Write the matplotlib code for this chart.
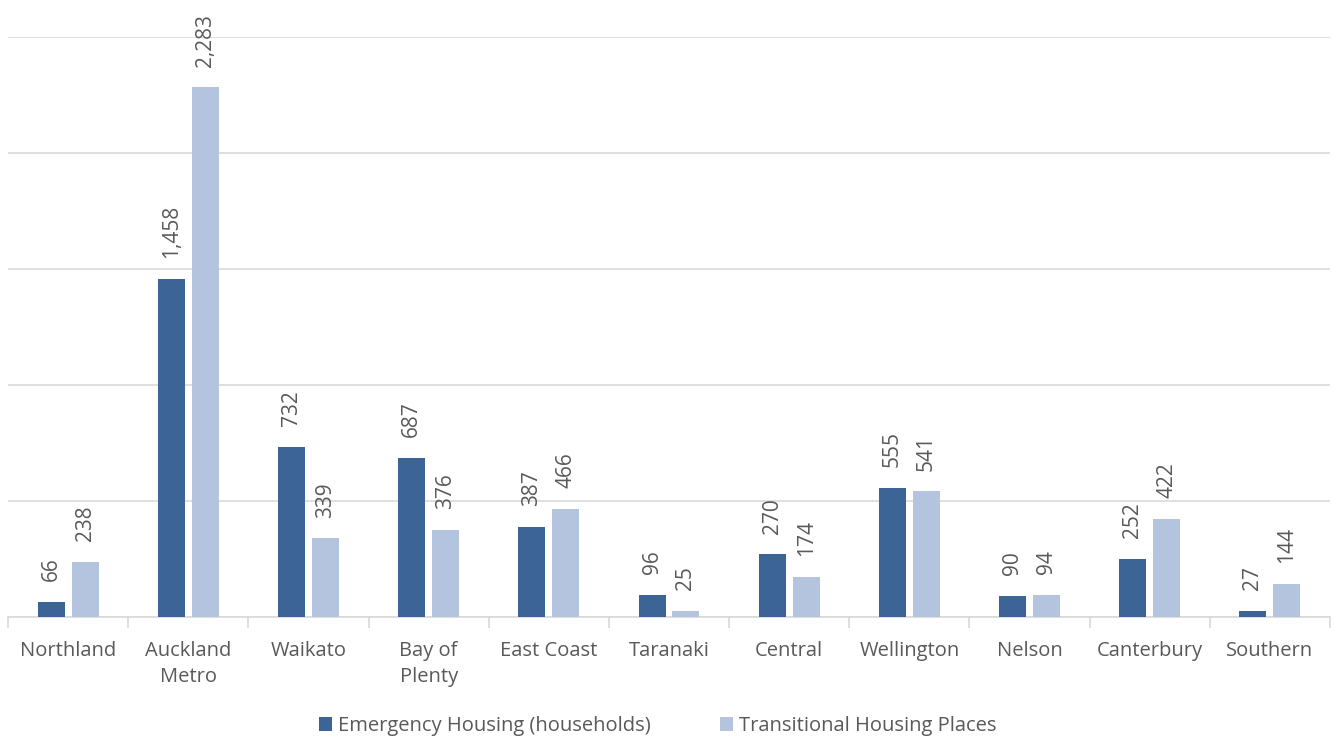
import numpy as np
import matplotlib.pyplot as plt
from matplotlib.ticker import FixedLocator, MultipleLocator

plt.rcParams['font.family'] = ['Open Sans', 'DejaVu Sans']

regions = ['Northland', 'Auckland\nMetro', 'Waikato', 'Bay of\nPlenty', 'East Coast',
           'Taranaki', 'Central', 'Wellington', 'Nelson', 'Canterbury', 'Southern']
emergency = [66, 1458, 732, 687, 387, 96, 270, 555, 90, 252, 27]
transitional = [238, 2283, 339, 376, 466, 25, 174, 541, 94, 422, 144]

dark = '#3c6496'
light = '#b4c4de'
txt = '#595959'

fig = plt.figure(figsize=(13.34, 7.4), dpi=100)
ax = fig.add_axes([8 / 1334, 1 - 617 / 740, 1322 / 1334, (617 - 37) / 740])

x = np.arange(len(regions))
w = 0.225
off = 0.141
b1 = ax.bar(x - off, emergency, w, color=dark, label='Emergency Housing (households)', zorder=3)
b2 = ax.bar(x + off, transitional, w, color=light, label='Transitional Housing Places', zorder=3)

for bars in (b1, b2):
    ax.bar_label(bars, labels=[f'{v:,}' for v in bars.datavalues], rotation=90,
                 padding=15, fontsize=15, color=txt)

ax.set_xlim(-0.5, len(regions) - 0.5)
ax.set_ylim(0, 2500)
ax.yaxis.set_major_locator(MultipleLocator(500))
ax.grid(axis='y', color='#d9d9d9', lw=1.2, zorder=0)
ax.set_yticklabels([])
ax.tick_params(axis='y', length=0)

ax.set_xticks(x)
ax.set_xticklabels(regions, fontsize=14.5, color=txt, linespacing=1.45)
ax.tick_params(axis='x', which='major', length=0, pad=17)
ax.xaxis.set_minor_locator(FixedLocator(np.arange(-0.5, len(regions), 1.0)))
ax.tick_params(axis='x', which='minor', length=8, color='#d9d9d9', width=1.2)

for s in ('top', 'right', 'left'):
    ax.spines[s].set_visible(False)
ax.spines['bottom'].set_color('#d9d9d9')
ax.spines['bottom'].set_linewidth(1.2)

leg = fig.legend(handles=[b1, b2], loc='center', bbox_to_anchor=(0.493, 1 - 726 / 740),
                 ncol=2, frameon=False, fontsize=14.5, handlelength=0.65, handleheight=0.65,
                 handletextpad=0.3, columnspacing=3.4)
for t in leg.get_texts():
    t.set_color(txt)

fig.savefig('out.png', dpi=100)
